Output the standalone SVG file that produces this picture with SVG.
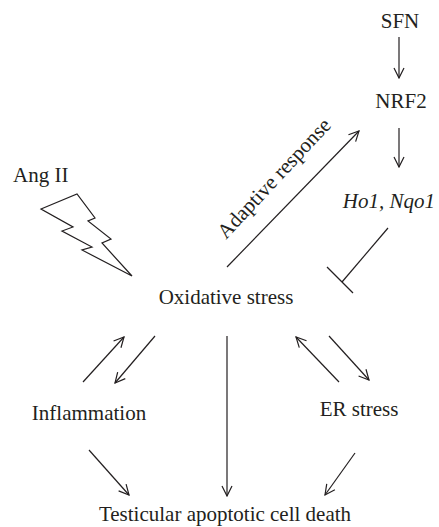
<svg xmlns="http://www.w3.org/2000/svg" width="439" height="527" viewBox="0 0 439 527">
<defs>
<marker id="ah" viewBox="0 0 12 12" refX="11" refY="6" markerWidth="12" markerHeight="12" markerUnits="userSpaceOnUse" orient="auto">
<path d="M1,1 L11,6 L1,11" fill="none" stroke="#231f20" stroke-width="1.2"/>
</marker>
<style>
text{font-family:"Liberation Serif","Times New Roman",serif;font-size:21px;fill:#231f20}
.c line{stroke:#231f20;stroke-width:1.2;fill:none}
.a{marker-end:url(#ah)}
</style>
</defs>
<rect width="439" height="527" fill="#fff"/>
<g id="sfn"><text x="400" y="28" text-anchor="middle">SFN</text></g>
<g id="nrf2"><text x="401" y="108" text-anchor="middle">NRF2</text></g>
<g id="ho1"><text x="435" y="208" text-anchor="end" font-style="italic">Ho1, Nqo1</text></g>
<g id="angii"><text x="13" y="182">Ang II</text>
<path d="M41,209 L77,194 L95,218 L88,221 L111,239 L102,243 L132,276 L82,250 L92,247 L62,231 L73,227 Z" fill="none" stroke="#231f20" stroke-width="1.2" stroke-linejoin="miter"/></g>
<g id="ox"><text x="226" y="304" text-anchor="middle">Oxidative stress</text></g>
<g id="infl"><text x="89" y="420" text-anchor="middle">Inflammation</text></g>
<g id="er"><text x="359" y="416" text-anchor="middle">ER stress</text></g>
<g id="death"><text x="225" y="521" text-anchor="middle">Testicular apoptotic cell death</text></g>
<g id="adaptive"><text transform="translate(279,183) rotate(-47)" text-anchor="middle">Adaptive response</text></g>
<g class="c" id="connectors">
<line class="a" x1="399" y1="37" x2="399" y2="78"/>
<line class="a" x1="399" y1="128" x2="399" y2="167"/>
<line class="a" x1="227" y1="267" x2="359" y2="131"/>
<line x1="388" y1="228" x2="342" y2="282"/>
<line x1="327" y1="267" x2="353" y2="293"/>
<line class="a" x1="83" y1="382" x2="124" y2="337"/>
<line class="a" x1="155" y1="336" x2="115" y2="383"/>
<line class="a" x1="227" y1="336" x2="227" y2="496"/>
<line class="a" x1="339" y1="382" x2="296" y2="337"/>
<line class="a" x1="329" y1="336" x2="369" y2="380"/>
<line class="a" x1="89" y1="450" x2="129" y2="495"/>
<line class="a" x1="355" y1="453" x2="325" y2="495"/>
</g>
</svg>
